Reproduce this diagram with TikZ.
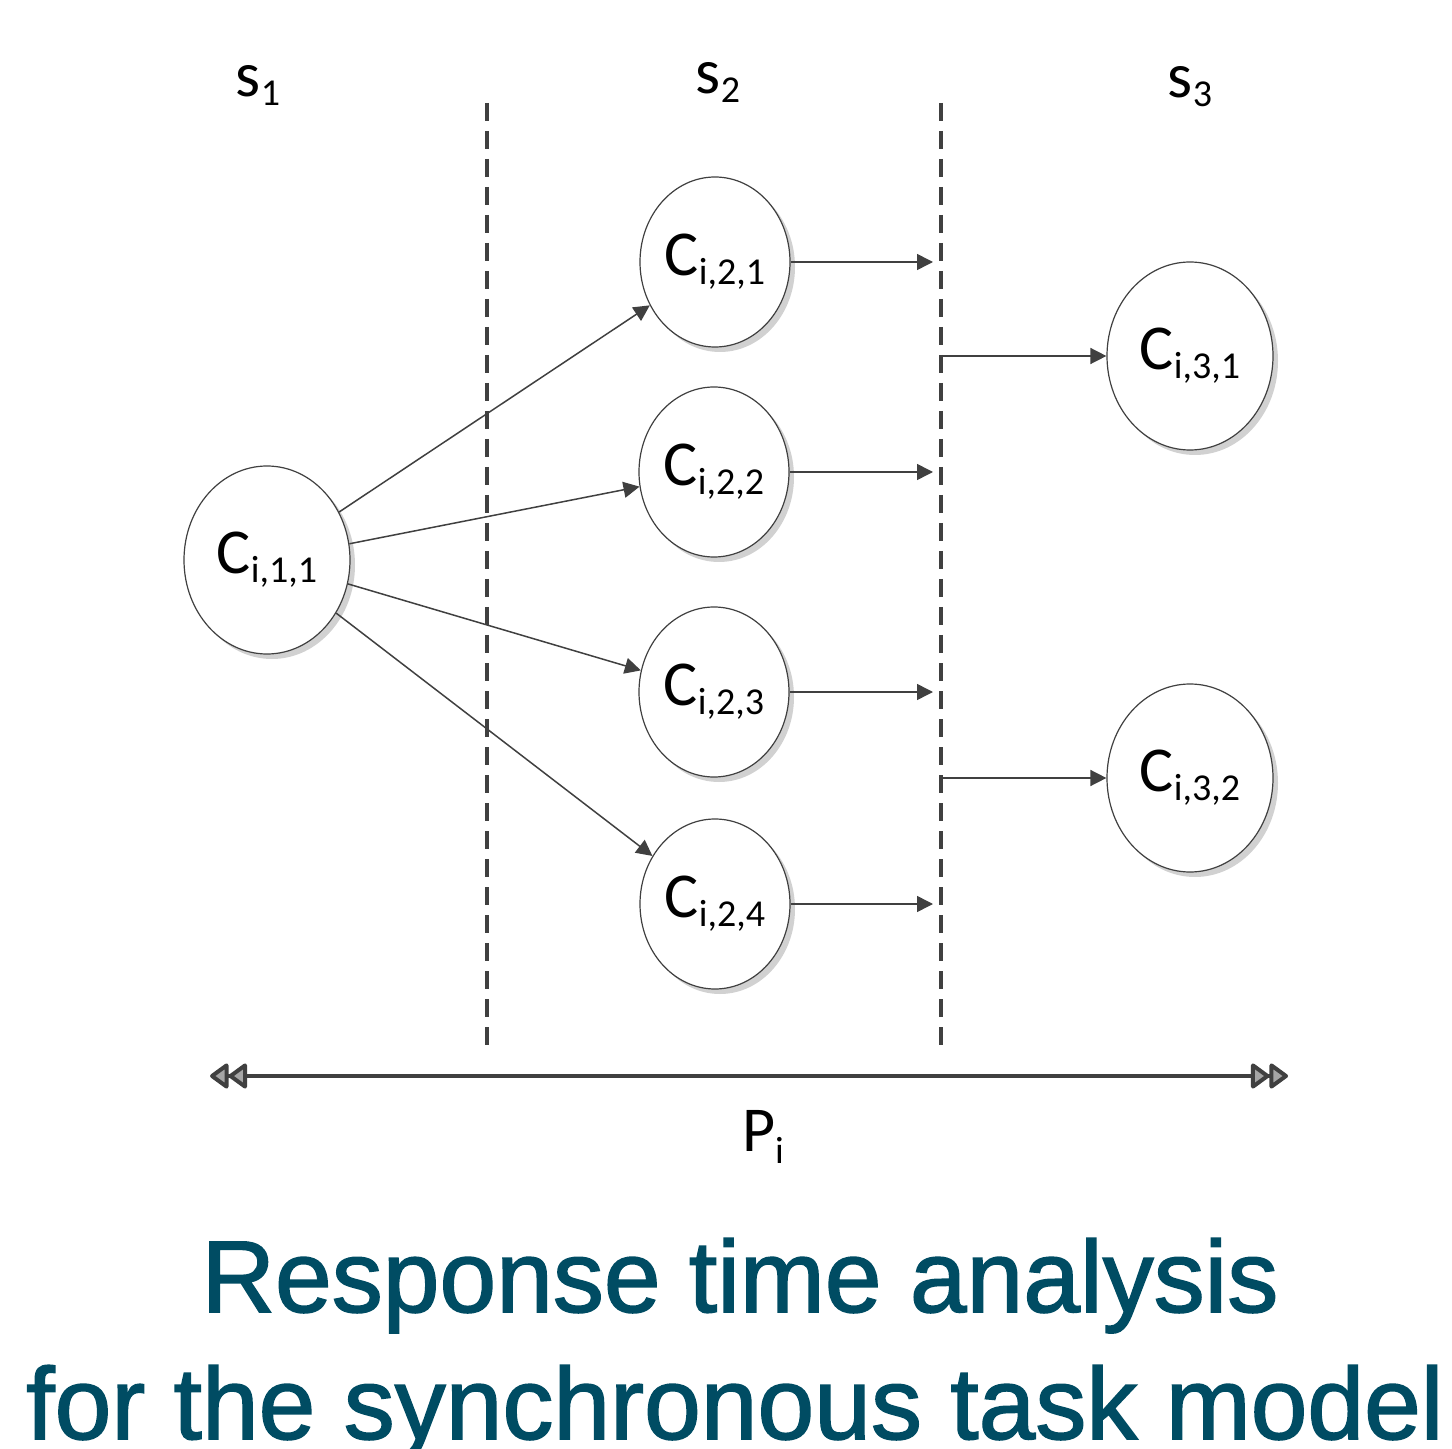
\documentclass[tikz,border=0pt]{standalone}
\usepackage{fontspec}
\setmainfont{Carlito}
\newfontfamily\titlefont[FakeBold=1.5]{Liberation Sans}
\usetikzlibrary{arrows.meta,shapes.geometric,shadows}
\definecolor{edgecol}{HTML}{404040}
\definecolor{titlecol}{HTML}{004C63}
\newcommand\subx[1]{\raisebox{-4.5pt}{\fontsize{19pt}{19pt}\selectfont #1}}
\begin{document}
\begin{tikzpicture}[x=0.5pt,y=-0.5pt,
  taskbig/.style={ellipse,draw=edgecol,line width=0.6pt,fill=white,minimum width=83pt,minimum height=94pt,inner sep=0pt,
    drop shadow={shadow xshift=2.5pt,shadow yshift=-2.5pt,opacity=0.18,fill=black}},
  tasksmall/.style={taskbig,minimum width=75pt,minimum height=85pt},
  lbl/.style={font=\fontsize{32pt}{32pt}\selectfont},
  flow/.style={draw=edgecol,line width=0.75pt,-{Triangle[length=8pt,width=8pt]}},
  stage/.style={draw=edgecol,line width=1.6pt,dash pattern=on 9pt off 5pt},
  period/.style={draw=edgecol,line width=2pt,
    {Triangle[length=10pt,width=14pt,fill=gray!70,line join=round]Triangle[length=10pt,width=14pt,fill=gray!70,line join=round]}-{Triangle[length=10pt,width=14pt,fill=gray!70,line join=round]Triangle[length=10pt,width=14pt,fill=gray!70,line join=round]}},
  ttl/.style={font=\titlefont\fontsize{51pt}{51pt}\selectfont,text=titlecol,inner sep=0pt,anchor=base}]
\useasboundingbox (0,0) rectangle (1452,1449);
% stage labels
\node[lbl] (s1) at (258,85) {s\subx{1}};
\node[lbl] (s2) at (718,82) {s\subx{2}};
\node[lbl] (s3) at (1190,87) {s\subx{3}};
% dashed stage borders
\coordinate (d1t) at (487,103); \coordinate (d1b) at (487,1048);
\coordinate (d2t) at (941,103); \coordinate (d2b) at (941,1048);
\draw[stage] (d1t) -- (d1b);
\draw[stage] (d2t) -- (d2b);
% nodes
\node[taskbig,lbl] (c111) at (267,560) {C\subx{i,1,1}};
\node[tasksmall,lbl] (c221) at (715,262) {C\subx{i,2,1}};
\node[tasksmall,lbl] (c222) at (714,472) {C\subx{i,2,2}};
\node[tasksmall,lbl] (c223) at (714,692) {C\subx{i,2,3}};
\node[tasksmall,lbl] (c224) at (715,904) {C\subx{i,2,4}};
\node[taskbig,lbl] (c331) at (1190,356) {C\subx{i,3,1}};
\node[taskbig,lbl] (c332) at (1190,778) {C\subx{i,3,2}};
% edges from stage 1
\draw[flow] (c111) -- (c221);
\draw[flow] (c111) -- (c222);
\draw[flow] (c111) -- (c223);
\draw[flow] (c111) -- (c224);
% edges to the border
\coordinate (e1) at (933,262); \coordinate (e2) at (933,472);
\coordinate (e3) at (933,692); \coordinate (e4) at (933,904);
\draw[flow] (c221.east) -- (e1);
\draw[flow] (c222.east) -- (e2);
\draw[flow] (c223.east) -- (e3);
\draw[flow] (c224.east) -- (e4);
% edges from the border
\coordinate (f1) at (943,356); \coordinate (f2) at (943,778);
\draw[flow] (f1) -- (c331.west);
\draw[flow] (f2) -- (c332.west);
% period
\coordinate (pl) at (210,1076); \coordinate (pr) at (1288,1076);
\draw[period] (pl) -- (pr);
\node[lbl] (pi) at (763,1137) {P\raisebox{-6pt}{\fontsize{19pt}{19pt}\selectfont i}};
% title
\node[ttl] (t1) at (740,1312) {Response time analysis};
\node[ttl] (t2) at (735,1439) {for the synchronous task model};
\end{tikzpicture}
\end{document}
